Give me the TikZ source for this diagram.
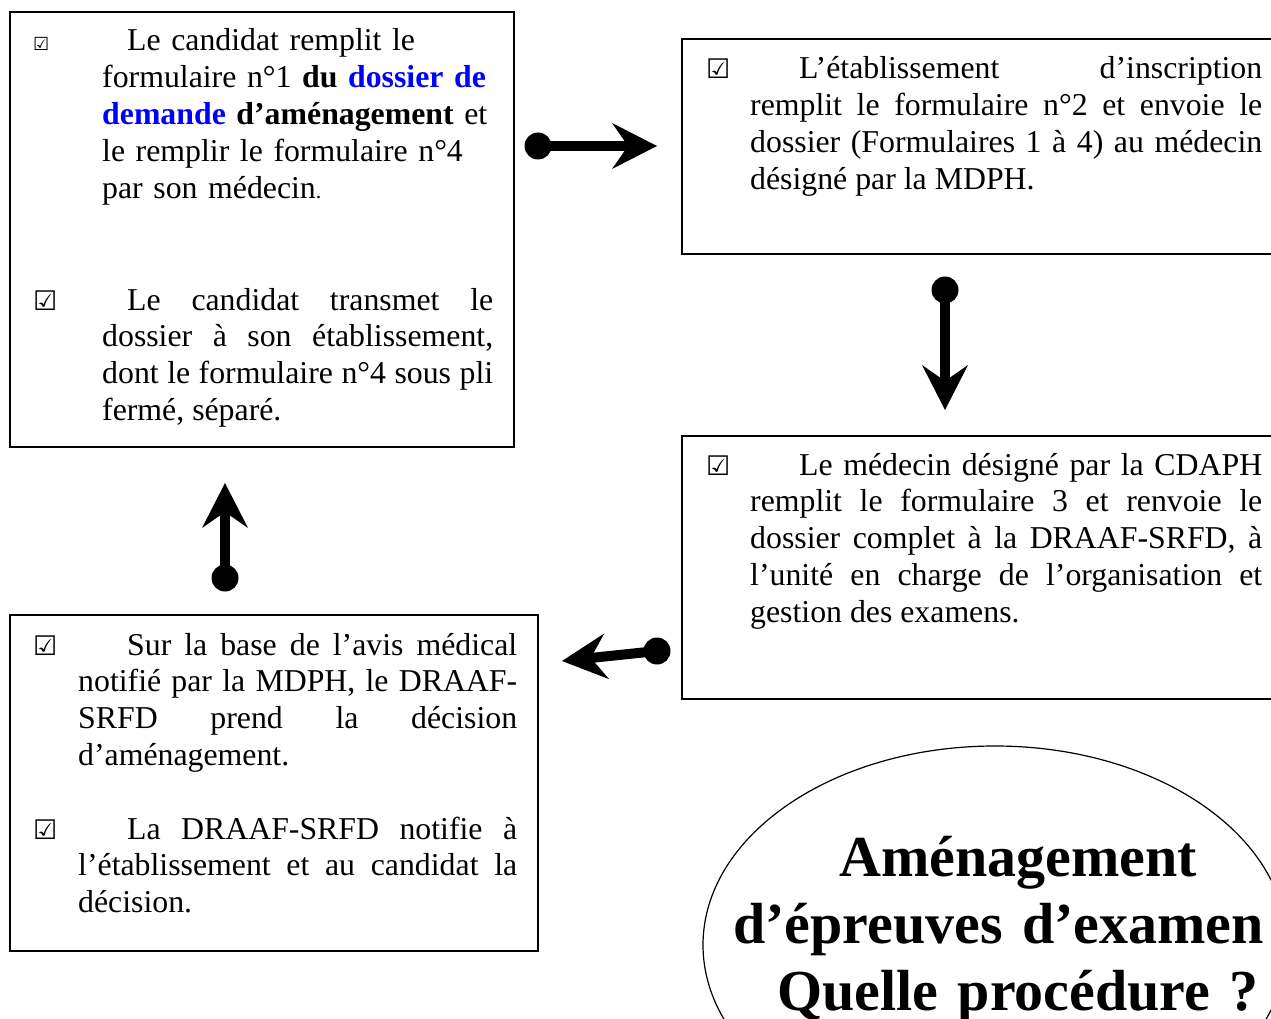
\documentclass[tikz,border=0pt]{standalone}
\usepackage{fontspec}
\setmainfont{Liberation Serif}
\newfontfamily\symfont{DejaVu Sans}
\usetikzlibrary{arrows.meta}
\tolerance=10000 \hbadness=10000 \hyphenpenalty=10000 \exhyphenpenalty=10000
% check box glyph, and the first line of a bulleted paragraph
\newcommand{\chk}[1][27]{{\symfont\bfseries\fontsize{#1}{#1}\selectfont ☑}}
\newcommand{\firstline}[3][27]{\noindent\hspace*{-#2}\makebox[#3][l]{\chk[#1]}}
\tikzset{
  frame/.style={draw, line width=1.8pt, inner sep=0pt, anchor=north west},
  para/.style={inner sep=0pt, anchor=base west, align=justify,
    font=\fontsize{31.8}{36.8}\selectfont},
  dot/.style={circle, fill, inner sep=0pt, minimum size=27pt},
  flow/.style={line width=10pt,
    -{Stealth[length=45pt,width=46pt,inset=16pt,line width=0pt]}}
}
\begin{document}
\begin{tikzpicture}[x=1pt,y=-1pt]
\clip (0,0) rectangle (1271,1019);
%frames
\node[frame, minimum width=504pt, minimum height=435pt] (box1) at (9,11) {};
\node[frame, minimum width=620pt, minimum height=215pt] (box2) at (681,38) {};
\node[frame, minimum width=620pt, minimum height=263pt] (box3) at (681,435) {};
\node[frame, minimum width=528pt, minimum height=336pt] (box4) at (9,614) {};
%box 1
\node[para, align=left, text width=391pt] (p11) at (102,51) {\firstline[18]{69pt}{94pt}Le candidat remplit le\\
formulaire n°1 \textbf{du \textcolor{blue}{dossier de}}\\
\textbf{\textcolor{blue}{demande} d’aménagement} et\\
le remplir le formulaire n°4\\
par son médecin{\fontsize{22}{22}\selectfont .}};
\node[para, text width=391pt] (p12) at (102,310) {\firstline{69pt}{94pt}Le candidat transmet le\linebreak
dossier à son établissement,\linebreak
dont le formulaire n°4 sous pli\linebreak
fermé, séparé.};
%box 2
\node[para, text width=512pt] (p2) at (750,79) {\firstline{44pt}{93pt}L’établissement d’inscription\linebreak
remplit le formulaire n°2 et envoie le\linebreak
dossier (Formulaires 1 à 4) au médecin\linebreak
désigné par la MDPH.};
%box 3
\node[para, text width=512pt] (p3) at (750,475) {\firstline{44pt}{93pt}Le médecin désigné par la CDAPH\linebreak
remplit le formulaire 3 et renvoie le\linebreak
dossier complet à la DRAAF-SRFD, à\linebreak
l’unité en charge de l’organisation et\linebreak
gestion des examens.};
%box 4
\node[para, text width=439pt] (p41) at (78,655) {\firstline{45pt}{94pt}Sur la base de l’avis médical\linebreak
notifié par la MDPH, le DRAAF-\linebreak
SRFD prend la décision\linebreak
d’aménagement.};
\node[para, text width=439pt] (p42) at (78,839) {\firstline{45pt}{94pt}La DRAAF-SRFD notifie à\linebreak
l’établissement et au candidat la\linebreak
décision.};
%arrows
\node[dot] (d1) at (538,146) {};
\coordinate (h1) at (657,146);
\draw[flow] (d1.center) -- (h1);
\node[dot] (d2) at (945,290) {};
\coordinate (h2) at (945,410);
\draw[flow] (d2.center) -- (h2);
\node[dot] (d3) at (225,578) {};
\coordinate (h3) at (225,483);
\draw[flow] (d3.center) -- (h3);
\node[dot] (d4) at (657,651) {};
\coordinate (h4) at (562,661);
\draw[flow] (d4.center) -- (h4);
%title
\draw[line width=1.2pt] (995,945) ellipse [x radius=292pt, y radius=199pt];
\node[inner sep=0pt, anchor=base, text width=700pt, align=center,
  font=\bfseries\fontsize{58}{67}\selectfont] (title) at (1018,876)
  {Aménagement\\ d’épreuves d’examen :\\ Quelle procédure ?};
\end{tikzpicture}
\end{document}
